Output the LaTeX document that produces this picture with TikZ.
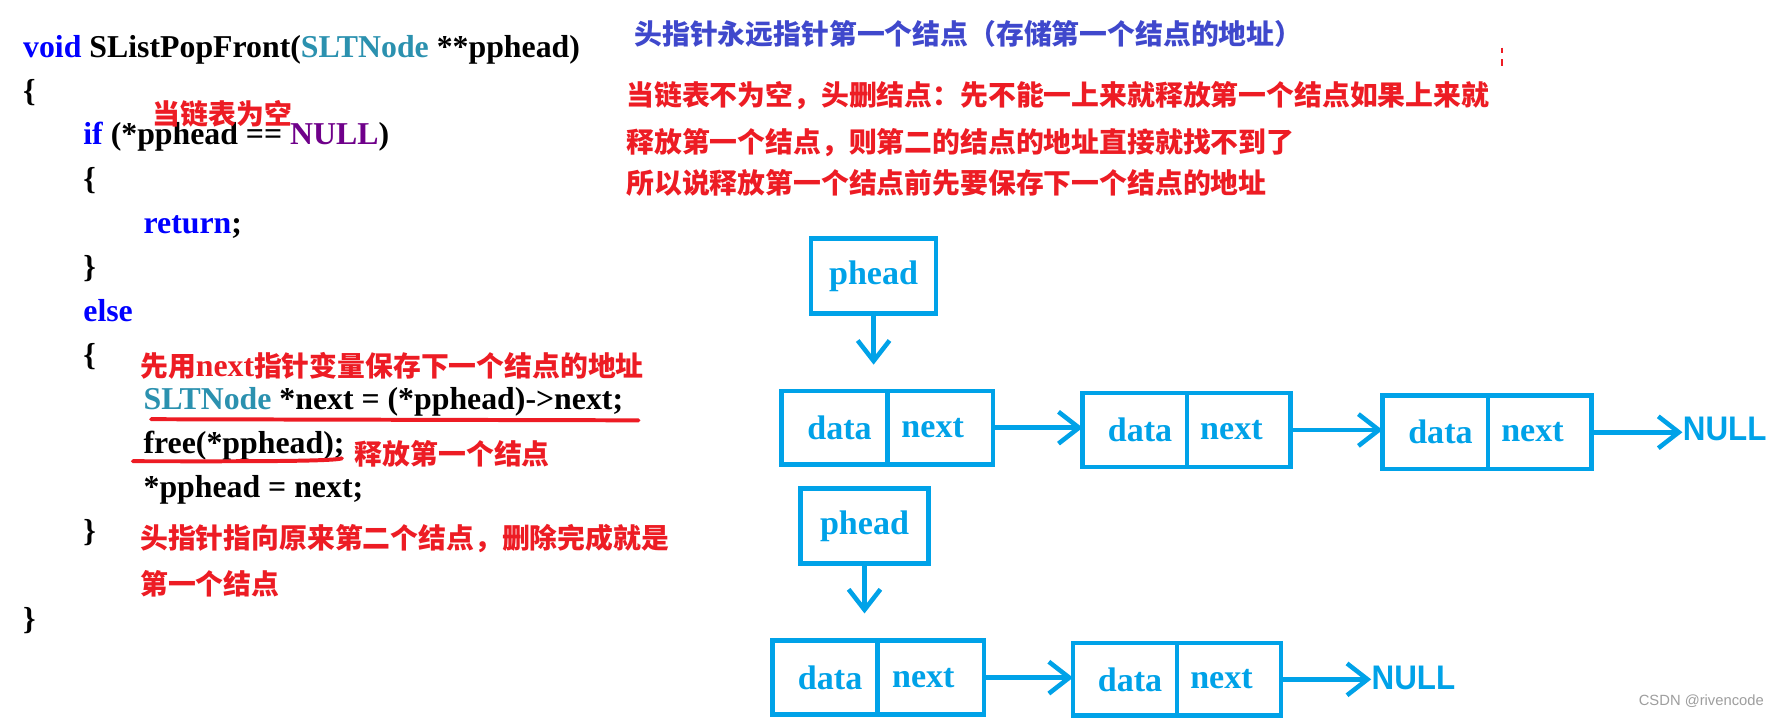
\documentclass[tikz,border=0pt]{standalone}
\usepackage{fontspec}
\setmainfont{Liberation Serif}
\newfontfamily\cjkfont{Noto Sans CJK SC}
\newfontfamily\nulltxt{Liberation Sans}[FakeStretch=0.92]
\newfontfamily\wmtxt{Liberation Sans}
\usetikzlibrary{arrows.meta}
\definecolor{nodeblue}{HTML}{00A2E8}
\definecolor{titleblue}{HTML}{3F48CC}
\definecolor{redtxt}{HTML}{ED1C24}
\definecolor{kwblue}{HTML}{0000FF}
\definecolor{typeteal}{HTML}{2B91AF}
\definecolor{nullpurple}{HTML}{6F008A}
\begin{document}
\begin{tikzpicture}[x=0.5pt,y=-0.5pt,
 code/.style={anchor=base west,inner sep=0pt,font=\fontsize{14pt}{14pt}\selectfont\bfseries},
 note/.style={anchor=base west,inner sep=0pt,text=redtxt,font=\fontsize{12.25pt}{12.25pt}\selectfont\cjkfont\bfseries},
 cell/.style={draw=nodeblue,line width=2pt,inner sep=0pt,outer sep=0pt,minimum height=32.5pt,text=nodeblue,font=\fontsize{15pt}{15pt}\selectfont\bfseries},
 arr/.style={draw=nodeblue,line width=2pt,-{Straight Barb[length=9pt,width=14pt]}},
 nulltext/.style={anchor=west,inner sep=0pt,text=nodeblue,font=\fontsize{15pt}{15pt}\selectfont\nulltxt\bfseries},
 uline/.style={draw=redtxt,line width=1.75pt,line cap=round}]
\fill[white] (0,0) rectangle (1566,632.9);
\path[use as bounding box] (0,0) rectangle (1566,632.9);

% ---------- code ----------
\node[code] (c0) at (20,50.5) {\textcolor{kwblue}{void} SListPopFront(\textcolor{typeteal}{SLTNode} **pphead)};
\node[code] (c1) at (20,89.3) {\{};
\node[code] (c2) at (73,127.6) {\textcolor{kwblue}{if} (*pphead == \textcolor{nullpurple}{NULL})};
\node[code] (c3) at (73,166.4) {\{};
\node[code] (c4) at (126,205.2) {\textcolor{kwblue}{return};};
\node[code] (c5) at (73,244) {\}};
\node[code] (c6) at (73,282.8) {\textcolor{kwblue}{else}};
\node[code] (c7) at (73,321.6) {\{};
\node[code] (c8) at (126,360.4) {\textcolor{typeteal}{SLTNode} *next = (*pphead)->next;};
\node[code] (c9) at (126,399.2) {free(*pphead);};
\node[code] (c10) at (126,438) {*pphead = next;};
\node[code] (c11) at (73,476.8) {\}};
\node[code] (c12) at (20,554.4) {\}};

% ---------- notes ----------
\node[note] (n0) at (134,110) {当链表为空};
\node[note] (n1) at (123,331) {先用{\rmfamily\fontsize{14pt}{14pt}\selectfont next}指针变量保存下一个结点的地址};
\node[note] (n2) at (312,409) {释放第一个结点};
\node[note] (n3) at (123,483) {头指针指向原来第二个结点，删除完成就是};
\node[note] (n4) at (123,523) {第一个结点};
\node[note,text=titleblue] (t0) at (558,39) {头指针永远指针第一个结点（存储第一个结点的地址）};
\node[note] (r1) at (551,93) {当链表不为空，头删结点：先不能一上来就释放第一个结点如果上来就};
\node[note] (r2) at (551,134) {释放第一个结点，则第二的结点的地址直接就找不到了};
\node[note] (r3) at (551,170) {所以说释放第一个结点前先要保存下一个结点的地址};

% underlines
\coordinate (u1a) at (133,369);
\coordinate (u1b) at (562,370);
\draw[uline] (u1a) -- (u1b);
\coordinate (u2a) at (117,406);
\coordinate (u2b) at (301,403.5);
\draw[uline] (u2a) .. controls (200,406) and (290,406.5) .. (u2b);

% small red marks
\coordinate (m1) at (1322,42);
\coordinate (m2) at (1322,47);
\coordinate (m3) at (1322,52);
\coordinate (m4) at (1322,58);
\draw[redtxt,line width=1pt] (m1) -- (m2) (m3) -- (m4);

% ---------- list 1 ----------
\node[cell,minimum width=55pt,minimum height=33pt] (p1) at (769,243) {phead};
\node[cell,minimum width=46.5pt] (Ad) at (734.5,376.5) {\hspace*{4.5pt}data};
\node[cell,minimum width=46.5pt] (An) at (827.5,376.5) {next\hspace*{6.5pt}};
\node[cell,minimum width=46pt] (Bd) at (999,378.5) {\hspace*{4.5pt}data};
\node[cell,minimum width=45.5pt] (Bn) at (1090.5,378.5) {next\hspace*{6.5pt}};
\node[cell,minimum width=46.5pt] (Cd) at (1263.5,380.5) {\hspace*{4.5pt}data};
\node[cell,minimum width=45.5pt] (Cn) at (1355.5,380.5) {next\hspace*{6.5pt}};
\node[nulltext] (N1) at (1481,378) {NULL};
\coordinate (t1) at (769,321);
\draw[arr] (p1.south) -- (t1);
\draw[arr] (An.east) -- (An.east -| Bd.west);
\draw[arr] (Bn.east) -- (Bn.east -| Cd.west);
\draw[arr] (Cn.east) -- (Cn.east -| N1.west);

% ---------- list 2 ----------
\node[cell,minimum width=56.5pt,minimum height=33pt] (p2) at (761,463) {phead};
\node[cell,minimum width=46.25pt] (Dd) at (726.25,596.5) {\hspace*{4.5pt}data};
\node[cell,minimum width=46.75pt] (Dn) at (819.25,596.5) {next\hspace*{6.5pt}};
\node[cell,minimum width=45.75pt,minimum height=32pt] (Ed) at (990.25,598) {\hspace*{4.5pt}data};
\node[cell,minimum width=45.75pt,minimum height=32pt] (En) at (1081.75,598) {next\hspace*{6.5pt}};
\node[nulltext] (N2) at (1207,597) {NULL};
\coordinate (t2) at (761,540);
\draw[arr] (p2.south) -- (t2);
\draw[arr] (Dn.east) -- (Dn.east -| Ed.west);
\draw[arr] (En.east) -- (En.east -| N2.west);

% watermark
\node[anchor=east,inner sep=0pt,text=black!38,font=\fontsize{6.5pt}{6.5pt}\selectfont\wmtxt] (wm) at (1553,617) {CSDN @rivencode};
\end{tikzpicture}
\end{document}
